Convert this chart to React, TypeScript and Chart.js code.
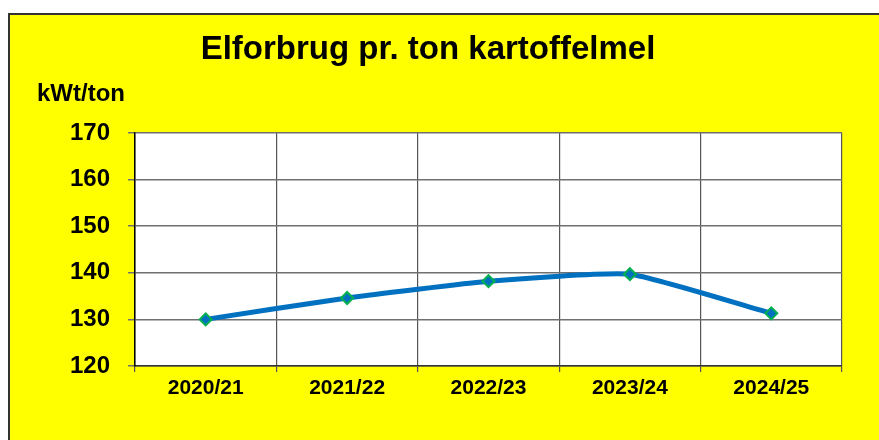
import React, { useEffect, useRef } from "react";
import { Chart, registerables } from "chart.js";

Chart.register(...registerables);

const chartTitle = "Elforbrug pr. ton kartoffelmel";
const unitLabel = "kWt/ton";
const categories = ["2020/21", "2021/22", "2022/23", "2023/24", "2024/25"];
const values = [130.0, 134.6, 138.2, 139.7, 131.3];
const yMin = 120;
const yMax = 170;
const yStep = 10;

const FONT = "'Liberation Sans', Arial, sans-serif";

const textPlugin = {
  id: "textPlugin",
  beforeDraw(chart: any) {
    const { ctx, chartArea } = chart;
    ctx.save();
    ctx.fillStyle = "#FFFFFF";
    ctx.fillRect(chartArea.left, chartArea.top, chartArea.right - chartArea.left, chartArea.bottom - chartArea.top);
    ctx.restore();
  },
  afterDraw(chart: any) {
    const ctx = chart.ctx;
    ctx.save();
    ctx.fillStyle = "#000";
    ctx.textBaseline = "alphabetic";
    ctx.font = `bold 33px ${FONT}`;
    ctx.textAlign = "center";
    ctx.fillText(chartTitle, 418, 44);
    ctx.font = `bold 24px ${FONT}`;
    ctx.textAlign = "left";
    ctx.fillText(unitLabel, 27, 86);
    ctx.restore();
  },
};

export default function App() {
  const ref = useRef<HTMLCanvasElement | null>(null);
  useEffect(() => {
    if (!ref.current) return;
    const chart = new Chart(ref.current, {
      type: "line",
      data: {
        labels: categories,
        datasets: [
          {
            data: values,
            borderColor: "#0070C0",
            borderWidth: 5,
            backgroundColor: "#0070C0",
            pointStyle: "rectRot",
            pointRadius: 6,
            pointBorderColor: "#00B050",
            pointBackgroundColor: "#0070C0",
            pointBorderWidth: 2,
            tension: 0.15,
            fill: false,
          },
        ],
      },
      options: {
        responsive: false,
        animation: false,
        layout: { padding: { left: 0, right: 37, top: 118, bottom: 24 } },
        plugins: { legend: { display: false }, tooltip: { enabled: false }, title: { display: false } },
        scales: {
          x: {
            offset: true,
            grid: {
              offset: true,
              color: (c: any) => (c.index === categories.length ? "#000" : "#555"),
              lineWidth: (c: any) => (c.index === categories.length ? 2 : 1.2),
              tickLength: 6,
              drawTicks: true,
            },
            border: { color: "#333", width: 1.5 },
            ticks: {
              color: "#000",
              font: { family: FONT, size: 21, weight: "bold" },
              padding: 4,
              maxRotation: 0,
            },
            afterFit: (s: any) => {
              s.height = 50;
            },
          },
          y: {
            min: yMin,
            max: yMax,
            grid: { color: "#707070", lineWidth: 1.5, tickLength: 7 },
            border: { color: "#000", width: 1.5 },
            ticks: {
              stepSize: yStep,
              color: "#000",
              font: { family: FONT, size: 24, weight: "bold" },
              padding: 18,
            },
            afterFit: (s: any) => {
              s.width = 125;
            },
          },
        },
      },
      plugins: [textPlugin],
    } as any);
    return () => chart.destroy();
  }, []);
  return (
    <div
      style={{
        position: "fixed",
        left: 8,
        top: 13,
        width: 871,
        height: 427,
        background: "#FFFF00",
        borderTop: "2px solid #333",
        borderLeft: "2px solid #333",
        overflow: "hidden",
      }}
    >
      <canvas ref={ref} width={869} height={425} style={{ display: "block", width: 869, height: 425 }} />
    </div>
  );
}
